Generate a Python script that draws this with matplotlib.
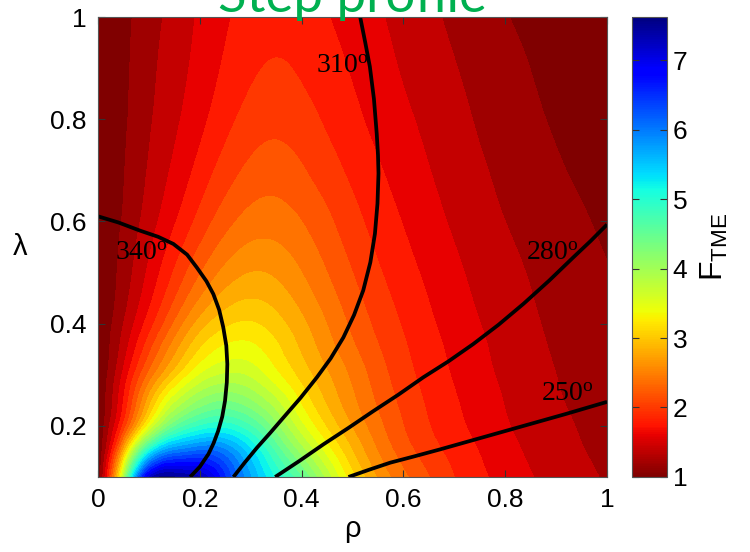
import numpy as np
import matplotlib
matplotlib.use("Agg")
import matplotlib.pyplot as plt
import matplotlib.tri as mtri
from matplotlib.colors import Normalize
from matplotlib.cm import ScalarMappable

# F_TME on a coarse (rho, lambda) grid
rho_grid = [0, 0.025, 0.05, 0.1, 0.15, 0.2, 0.25, 0.3, 0.35, 0.4, 0.5, 0.6, 0.7, 0.8, 0.9, 1.0]
lam_grid = [0.1, 0.15, 0.2, 0.25, 0.3, 0.35, 0.4, 0.5, 0.6, 0.7, 0.8, 0.9, 1.0]
f_lam_010 = [1.0, 2.2, 3.9, 7.2, 7.6, 7.4, 6.6, 5.8, 5.15, 4.6, 3.25, 2.45, 2.0, 1.72, 1.52, 1.38]
f_lam_015 = [1.0, 1.75, 2.9, 5.2, 6.05, 6.25, 6.05, 5.45, 4.75, 4.1, 3.0, 2.3, 1.93, 1.67, 1.48, 1.35]
f_lam_020 = [1.0, 1.45, 2.05, 3.5, 4.55, 5.0, 5.1, 4.8, 4.25, 3.65, 2.78, 2.2, 1.86, 1.62, 1.45, 1.32]
f_lam_025 = [1.0, 1.34, 1.8, 2.88, 3.72, 4.2, 4.38, 4.2, 3.82, 3.35, 2.64, 2.14, 1.82, 1.59, 1.42, 1.3]
f_lam_030 = [1.0, 1.28, 1.65, 2.45, 3.1, 3.6, 3.82, 3.75, 3.45, 3.12, 2.55, 2.08, 1.78, 1.56, 1.4, 1.28]
f_lam_035 = [1.0, 1.22, 1.5, 2.14, 2.72, 3.2, 3.45, 3.46, 3.25, 2.97, 2.44, 2.03, 1.75, 1.535, 1.38, 1.265]
f_lam_040 = [1.0, 1.18, 1.4, 1.9, 2.42, 2.88, 3.15, 3.22, 3.08, 2.85, 2.35, 1.98, 1.71, 1.51, 1.36, 1.25]
f_lam_050 = [1.0, 1.13, 1.28, 1.64, 2.02, 2.38, 2.66, 2.8, 2.76, 2.6, 2.2, 1.88, 1.64, 1.46, 1.32, 1.21]
f_lam_060 = [1.0, 1.11, 1.22, 1.5, 1.78, 2.07, 2.32, 2.48, 2.5, 2.4, 2.07, 1.79, 1.57, 1.4, 1.27, 1.17]
f_lam_070 = [1.0, 1.1, 1.19, 1.42, 1.64, 1.87, 2.09, 2.25, 2.3, 2.22, 1.95, 1.71, 1.51, 1.35, 1.22, 1.14]
f_lam_080 = [1.0, 1.09, 1.17, 1.37, 1.56, 1.74, 1.93, 2.08, 2.14, 2.08, 1.85, 1.64, 1.46, 1.3, 1.18, 1.11]
f_lam_090 = [1.0, 1.085, 1.16, 1.34, 1.51, 1.67, 1.83, 1.96, 2.02, 1.97, 1.78, 1.58, 1.41, 1.26, 1.15, 1.09]
f_lam_100 = [1.0, 1.08, 1.15, 1.31, 1.47, 1.63, 1.77, 1.88, 1.93, 1.89, 1.72, 1.53, 1.36, 1.21, 1.12, 1.08]

# angle iso-lines (rho, lambda)
angle_labels = ["340", "310", "280", "250"]
rho_340 = [0.0, 0.04, 0.0825, 0.118, 0.148, 0.175, 0.194, 0.213, 0.2265, 0.238, 0.246,
           0.252, 0.254, 0.253, 0.2495, 0.244, 0.236, 0.227, 0.217, 0.2, 0.181]
lam_340 = [0.61, 0.598, 0.582, 0.57, 0.556, 0.535, 0.51, 0.483, 0.458, 0.427, 0.393,
           0.357, 0.321, 0.285, 0.249, 0.218, 0.19, 0.166, 0.145, 0.12, 0.1]
rho_310 = [0.515, 0.525, 0.534, 0.542, 0.5475, 0.55, 0.551, 0.549, 0.544, 0.535, 0.521,
           0.503, 0.482, 0.457, 0.43, 0.398, 0.364, 0.338, 0.312, 0.288, 0.266]
lam_310 = [1.0, 0.95, 0.903, 0.84, 0.772, 0.73, 0.694, 0.635, 0.576, 0.52, 0.465,
           0.417, 0.373, 0.332, 0.295, 0.255, 0.216, 0.186, 0.157, 0.128, 0.1]
rho_280 = [1.0, 0.968, 0.934, 0.886, 0.836, 0.787, 0.737, 0.688, 0.639, 0.59, 0.541,
           0.492, 0.443, 0.395, 0.348]
lam_280 = [0.594, 0.562, 0.53, 0.484, 0.439, 0.398, 0.36, 0.326, 0.295, 0.261, 0.229,
           0.196, 0.164, 0.131, 0.1]
rho_250 = [1.0, 0.918, 0.836, 0.754, 0.672, 0.62, 0.574, 0.532, 0.492]
lam_250 = [0.247, 0.223, 0.2, 0.177, 0.154, 0.14, 0.128, 0.114, 0.1]
label_rho = [0.033, 0.428, 0.84, 0.87]
label_lam = [0.539, 0.904, 0.539, 0.262]

f_min, f_max = 1.0, 7.62


def grid_triangulation(xs, ys):
    """Triangulation of a rectilinear grid, same diagonal in every cell."""
    nx, ny = len(xs), len(ys)
    X, Y = np.meshgrid(xs, ys)
    tris = []
    for j in range(ny - 1):
        for i in range(nx - 1):
            p00 = j * nx + i
            p10 = p00 + 1
            p01 = p00 + nx
            p11 = p01 + 1
            tris.append([p00, p10, p11])
            tris.append([p00, p11, p01])
    return mtri.Triangulation(X.ravel(), Y.ravel(), np.array(tris))


def plot_step_profile(save_path="out.png"):
    """Filled contour map of F_TME over (rho, lambda) with angle iso-lines."""
    plt.rcParams["font.family"] = ["Liberation Sans", "DejaVu Sans"]
    plt.rcParams["mathtext.fontset"] = "custom"
    plt.rcParams["mathtext.rm"] = "Liberation Serif"
    plt.rcParams["mathtext.sf"] = "Liberation Sans"
    plt.rcParams["mathtext.it"] = "Liberation Serif:italic"
    plt.rcParams["mathtext.bf"] = "Liberation Serif:bold"

    F = np.array([f_lam_010, f_lam_015, f_lam_020, f_lam_025, f_lam_030, f_lam_035,
                  f_lam_040, f_lam_050, f_lam_060, f_lam_070, f_lam_080, f_lam_090,
                  f_lam_100])
    tri = grid_triangulation(rho_grid, lam_grid)
    refiner = mtri.UniformTriRefiner(tri)
    tri_f, F_f = refiner.refine_field(F.ravel(), subdiv=4)
    F_f = np.clip(F_f, f_min, f_max - 0.01)

    cmap = plt.get_cmap("jet_r")
    norm = Normalize(vmin=f_min, vmax=f_max)
    levels = np.arange(1.0, 7.81, 0.2)
    band_colors = [cmap(norm(v)) for v in levels[:-1]]

    fig = plt.figure(figsize=(7.5, 5.52), dpi=100)
    ax = fig.add_axes([0.1307, 0.1359, 0.6787, 0.8333])
    ax.tricontourf(tri_f, F_f, levels=levels, colors=band_colors, antialiased=False)

    curves = [(rho_340, lam_340), (rho_310, lam_310), (rho_280, lam_280), (rho_250, lam_250)]
    for (xs, ys) in curves:
        ax.plot(xs, ys, color="black", linewidth=2.7, solid_capstyle="butt",
                solid_joinstyle="round")
    for txt, x, y in zip(angle_labels, label_rho, label_lam):
        ax.text(x, y, r"$\mathrm{" + txt + r"^{o}}$", fontsize=20,
                ha="left", va="center", color="black")

    ax.set_xlim(0, 1)
    ax.set_ylim(0.1, 1)
    ax.set_xticks([0, 0.2, 0.4, 0.6, 0.8, 1])
    ax.set_xticklabels(["0", "0.2", "0.4", "0.6", "0.8", "1"])
    ax.set_yticks([0.2, 0.4, 0.6, 0.8, 1])
    ax.set_yticklabels(["0.2", "0.4", "0.6", "0.8", "1"])
    ax.tick_params(direction="in", top=True, right=True, length=5, width=0.8,
                   labelsize=19, pad=8, color="#333333")
    for sp in ax.spines.values():
        sp.set_color("#555555")
    ax.set_xlabel("ρ", fontsize=21, labelpad=2)
    ax.set_ylabel("λ", fontsize=21, rotation=0, labelpad=22, va="center")

    cax = fig.add_axes([0.8427, 0.1359, 0.0467, 0.8333])
    sm = ScalarMappable(norm=norm, cmap=cmap)
    cb = fig.colorbar(sm, cax=cax)
    cb.set_ticks([1, 2, 3, 4, 5, 6, 7])
    cax.tick_params(direction="in", left=True, right=True, length=5, width=0.8,
                    labelsize=19, pad=4, color="#333333")
    cb.outline.set_edgecolor("#555555")
    cb.set_label(r"$\mathsf{F_{TME}}$", fontsize=23, labelpad=8)

    fig.text(352 / 750, 1 - 12 / 552, "Step profile", color="#00B050", fontsize=38,
             family="Lato", ha="center", va="baseline")

    fig.savefig(save_path, dpi=100)


plot_step_profile("out.png")
